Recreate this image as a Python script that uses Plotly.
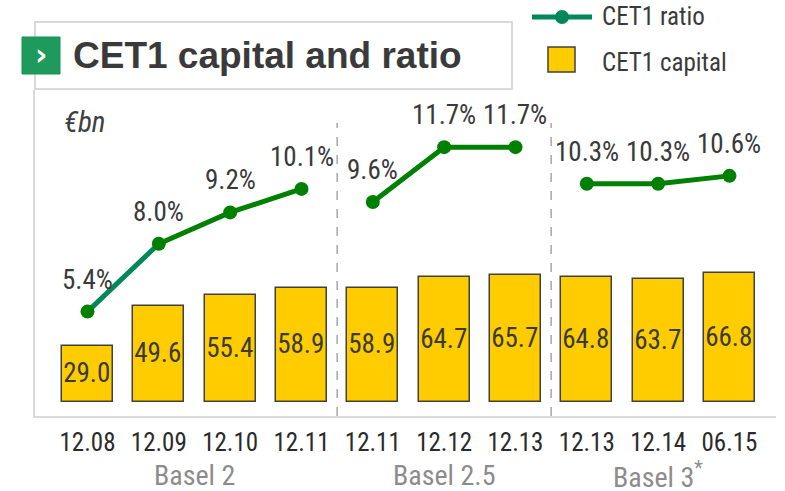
import plotly.graph_objects as go

categories = ["12.08", "12.09", "12.10", "12.11", "12.11", "12.12", "12.13", "12.13", "12.14", "06.15"]
cet1_capital = [29.0, 49.6, 55.4, 58.9, 58.9, 64.7, 65.7, 64.8, 63.7, 66.8]
cet1_ratio = [5.4, 8.0, 9.2, 10.1, 9.6, 11.7, 11.7, 10.3, 10.3, 10.6]
groups = ["Basel 2", "Basel 2.5", "Basel 3<sup>*</sup>"]
group_members = [[0, 1, 2, 3], [4, 5, 6], [7, 8, 9]]

W, H = 785, 491
L, R, T, B = 35, 776, 90, 416

def px(x):
    return (x - L) / (R - L)

def py(y):
    return (B - y) / (B - T)

NARROW = "Liberation Sans Narrow, Arial Narrow, Roboto Condensed, DejaVu Sans Condensed, sans-serif"
DARK = "#3a3a3a"
GREEN = "#008000"
TEAL = "#00875a"
YELLOW = "#ffcc00"

xs = list(range(len(categories)))

fig = go.Figure()
fig.add_trace(go.Bar(
    x=xs, y=cet1_capital, width=0.715,
    marker=dict(color=YELLOW, line=dict(color="#404040", width=1.5)),
    text=[f"{v:.1f}" for v in cet1_capital],
    textposition="inside", insidetextanchor="middle", constraintext="none", textangle=0,
    textfont=dict(family=NARROW, size=27, color=DARK),
    showlegend=False, yaxis="y", hoverinfo="skip",
))

# ratio line segments
fig.add_trace(go.Scatter(x=xs[0:2], y=cet1_ratio[0:2], mode="lines",
                         line=dict(color=TEAL, width=5), yaxis="y2", showlegend=False))
segs = [[1, 2, 3], [4, 5, 6], [7, 8, 9]]
for s in segs:
    fig.add_trace(go.Scatter(x=[xs[i] for i in s], y=[cet1_ratio[i] for i in s], mode="lines",
                             line=dict(color=GREEN, width=5), yaxis="y2", showlegend=False))
fig.add_trace(go.Scatter(x=xs, y=cet1_ratio, mode="markers",
                         marker=dict(color=GREEN, size=14), yaxis="y2", showlegend=False))

annotations = []
for i, v in enumerate(cet1_ratio):
    annotations.append(dict(x=xs[i], y=v, xref="x", yref="y2", text=f"{v:.1f}%",
                            showarrow=False, yshift=32,
                            font=dict(family=NARROW, size=27, color=DARK)))

group_centers = [sum(m) / len(m) for m in group_members]
for g, c in zip(groups, group_centers):
    annotations.append(dict(x=c, y=py(475), xref="x", yref="paper", text=g, showarrow=False,
                            yanchor="middle", font=dict(family=NARROW, size=28, color="#8c8c8c")))

annotations += [
    dict(x=px(71), y=py(56), xref="paper", yref="paper", text="<b>CET1 capital and ratio</b>",
         showarrow=False, xanchor="left", yanchor="middle",
         font=dict(family="Liberation Sans, Arial, sans-serif", size=37, color=DARK)),
    dict(x=px(41), y=py(55), xref="paper", yref="paper", text="<b>›</b>",
         showarrow=False, xanchor="center", yanchor="middle",
         font=dict(family="DejaVu Sans, sans-serif", size=30, color="white")),
    dict(x=px(62), y=py(122), xref="paper", yref="paper", text="<i>€bn</i>",
         showarrow=False, xanchor="left", yanchor="middle",
         font=dict(family=NARROW, size=29, color="#404040")),
    dict(x=px(600), y=py(17), xref="paper", yref="paper", text="CET1 ratio",
         showarrow=False, xanchor="left", yanchor="middle",
         font=dict(family=NARROW, size=25, color=DARK)),
    dict(x=px(600), y=py(62), xref="paper", yref="paper", text="CET1 capital",
         showarrow=False, xanchor="left", yanchor="middle",
         font=dict(family=NARROW, size=25, color=DARK)),
]

shapes = [
    # title box
    dict(type="rect", xref="paper", yref="paper", x0=px(35), x1=px(512), y0=py(22), y1=py(89),
         line=dict(color="#d9d9d9", width=2), fillcolor="white", layer="below"),
    # icon square
    dict(type="rect", xref="paper", yref="paper", x0=px(22), x1=px(60), y0=py(37), y1=py(74),
         line=dict(color="#1a8f52", width=1), fillcolor="#1e9b5c", layer="above"),
    # separators
    dict(type="line", xref="x", yref="paper", x0=3.5, x1=3.5, y0=0, y1=py(123),
         line=dict(color="#a6a6a6", width=1.5, dash="dash")),
    dict(type="line", xref="x", yref="paper", x0=6.5, x1=6.5, y0=0, y1=py(123),
         line=dict(color="#a6a6a6", width=1.5, dash="dash")),
    # legend symbols
    dict(type="line", xref="paper", yref="paper", x0=px(532), x1=px(592), y0=py(17), y1=py(17),
         line=dict(color=TEAL, width=5)),
    dict(type="circle", xref="paper", yref="paper", x0=px(555), x1=px(569), y0=py(10), y1=py(24),
         line=dict(color=TEAL, width=0), fillcolor=TEAL),
    dict(type="rect", xref="paper", yref="paper", x0=px(548), x1=px(575), y0=py(47), y1=py(72),
         line=dict(color="#404040", width=1.5), fillcolor=YELLOW),
]

fig.update_layout(
    width=W, height=H,
    margin=dict(l=L, r=W - R, t=T, b=H - B, pad=0),
    paper_bgcolor="white", plot_bgcolor="white",
    showlegend=False,
    bargap=0,
    hovermode=False,
    xaxis=dict(range=[-0.736, 9.652], tickmode="array", tickvals=xs, ticktext=categories,
               showgrid=False, zeroline=False, showline=True, linecolor="#d9d9d9", linewidth=2,
               ticks="outside", ticklen=3, tickcolor="rgba(0,0,0,0)",
               tickfont=dict(family=NARROW, size=25, color="#2a2a2a"), fixedrange=True),
    yaxis=dict(range=[-7.25, 161.7], showgrid=False, zeroline=False, showticklabels=False,
               showline=True, linecolor="#d9d9d9", linewidth=2, ticks="", fixedrange=True),
    yaxis2=dict(range=[1.40, 13.89], overlaying="y", side="right", showgrid=False,
                zeroline=False, showticklabels=False, showline=False, ticks="", fixedrange=True),
    annotations=annotations,
    shapes=shapes,
)

fig.write_html("out.html", config={"displayModeBar": False},
               post_script="document.body.style.margin='0';")
